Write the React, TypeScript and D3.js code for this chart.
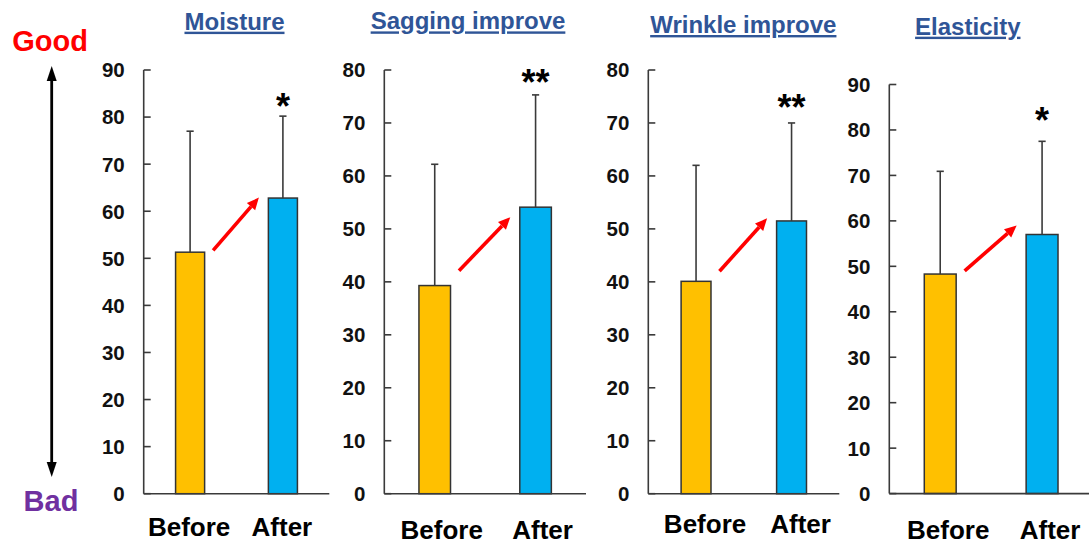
import React from "react";
import * as d3 from "d3";

// ---------- data ----------
const titles = ["Moisture", "Sagging improve", "Wrinkle improve", "Elasticity"];
const categories = ["Before", "After"];
const beforeMeans = [51.3, 39.3, 40.1, 48.3];
const afterMeans = [62.8, 54.1, 51.5, 57.0];
const beforeSD = [25.7, 22.9, 21.9, 22.6];
const afterSD = [17.4, 21.2, 18.5, 20.5];
const yMaxes = [90, 80, 80, 90];
const significance = ["*", "**", "**", "*"];
const arrowFrom = [51.7, 42.1, 42.0, 49.0];
const arrowTo = [62.9, 52.2, 52.0, 59.0];

// ---------- layout ----------
const W = 1089;
const H = 548;
const FONT = "'Liberation Sans', Arial, Helvetica, sans-serif";
const panelLayout = [
  { x0: 143.7, x1: 329.3, yTop: 70, yZero: 493.7, titleX: 234.5, titleY: 29.7, starGap: 17, labelDx: -1, labelY: 536 },
  { x0: 384.3, x1: 586, yTop: 70, yZero: 493.7, titleX: 468, titleY: 29.4, starGap: 20, labelDx: 7, labelY: 539 },
  { x0: 648.3, x1: 839.3, yTop: 70, yZero: 493.7, titleX: 743.3, titleY: 33, starGap: 23, labelDx: 9, labelY: 533 },
  { x0: 889.3, x1: 1093, yTop: 84.5, yZero: 493.6, titleX: 967.8, titleY: 34.7, starGap: 28, labelDx: 8, labelY: 539 },
];
const barColors = ["#FFC000", "#00B0F0"];
const axisColor = "#3a3a3a";

function Panel({ i }: { i: number }) {
  const L = panelLayout[i];
  const x = d3.scaleBand<string>().domain(categories).range([L.x0, L.x1]).paddingInner(0).paddingOuter(0);
  const y = d3.scaleLinear().domain([0, yMaxes[i]]).range([L.yZero, L.yTop]);
  const bw = x.bandwidth() * 0.313;
  const means = [beforeMeans[i], afterMeans[i]];
  const sds = [beforeSD[i], afterSD[i]];
  const ticks = d3.range(0, yMaxes[i] + 1, 10);
  const cx = (c: string) => (x(c) as number) + x.bandwidth() / 2;

  // arrow
  const ax1 = cx("Before") + bw / 2 + 8.5;
  const ay1 = y(arrowFrom[i]);
  const ax2 = cx("After") - bw / 2 - 9.5;
  const ay2 = y(arrowTo[i]);
  const ang = Math.atan2(ay2 - ay1, ax2 - ax1);
  const headLen = 12;
  const headW = 5.5;
  const bx = ax2 - headLen * Math.cos(ang);
  const by = ay2 - headLen * Math.sin(ang);
  const px = -Math.sin(ang) * headW;
  const py = Math.cos(ang) * headW;

  const errTopAfter = y(afterMeans[i] + afterSD[i]);

  return (
    <g>
      <text
        x={L.titleX}
        y={L.titleY}
        textAnchor="middle"
        fontFamily={FONT}
        fontWeight="bold"
        fontSize={24}
        fill="#2F5597"
        textDecoration="underline"
      >
        {titles[i]}
      </text>
      {categories.map((c, k) => (
        <rect
          key={c}
          x={cx(c) - bw / 2}
          y={y(means[k])}
          width={bw}
          height={L.yZero - y(means[k])}
          fill={barColors[k]}
          stroke="#333"
          strokeWidth={1.5}
        />
      ))}
      {categories.map((c, k) => (
        <g key={c} stroke={axisColor} strokeWidth={1.6}>
          <line x1={cx(c)} x2={cx(c)} y1={y(means[k])} y2={y(means[k] + sds[k])} />
          <line x1={cx(c) - 3.6} x2={cx(c) + 3.6} y1={y(means[k] + sds[k])} y2={y(means[k] + sds[k])} />
        </g>
      ))}
      <line x1={L.x0} x2={L.x0} y1={L.yTop} y2={L.yZero} stroke={axisColor} strokeWidth={1.6} />
      <line x1={L.x0} x2={L.x1} y1={L.yZero} y2={L.yZero} stroke={axisColor} strokeWidth={1.6} />
      {ticks.map((t) => (
        <g key={t}>
          <line x1={L.x0} x2={L.x0 + 7} y1={y(t)} y2={y(t)} stroke={axisColor} strokeWidth={1.6} />
          <text
            x={L.x0 - 19}
            y={y(t)}
            dy="0.36em"
            textAnchor="end"
            fontFamily={FONT}
            fontWeight="bold"
            fontSize={20.5}
            fill="#111"
          >
            {t}
          </text>
        </g>
      ))}
      {categories.map((c) => (
        <text
          key={c}
          x={cx(c) + L.labelDx}
          y={L.labelY}
          textAnchor="middle"
          fontFamily={FONT}
          fontWeight="bold"
          fontSize={26}
          fill="#000"
        >
          {c}
        </text>
      ))}
      <text
        x={cx("After")}
        y={errTopAfter - L.starGap + 19.8}
        textAnchor="middle"
        fontFamily={FONT}
        fontWeight="bold"
        fontSize={36}
        fill="#000"
      >
        {significance[i]}
      </text>
      <line x1={ax1} y1={ay1} x2={bx} y2={by} stroke="#FF0000" strokeWidth={3.6} />
      <polygon points={`${ax2},${ay2} ${bx + px},${by + py} ${bx - px},${by - py}`} fill="#FF0000" />
    </g>
  );
}

export default function App() {
  const arrowX = 51.7;
  const aTop = 66;
  const aBot = 477;
  return (
    <svg
      width={W}
      height={H}
      viewBox={`0 0 ${W} ${H}`}
      style={{ position: "absolute", left: 0, top: 0, background: "#fff" }}
    >
      <rect x={0} y={0} width={W} height={H} fill="#fff" />
      <text x={50} y={51} textAnchor="middle" fontFamily={FONT} fontWeight="bold" fontSize={29} fill="#FF0000">
        Good
      </text>
      <text x={51} y={511} textAnchor="middle" fontFamily={FONT} fontWeight="bold" fontSize={29} fill="#7030A0">
        Bad
      </text>
      <line x1={arrowX} x2={arrowX} y1={aTop + 12} y2={aBot - 12} stroke="#000" strokeWidth={2.8} />
      <polygon points={`${arrowX},${aTop} ${arrowX - 5},${aTop + 15} ${arrowX + 5},${aTop + 15}`} fill="#000" />
      <polygon points={`${arrowX},${aBot} ${arrowX - 5},${aBot - 15} ${arrowX + 5},${aBot - 15}`} fill="#000" />
      {titles.map((_, i) => (
        <Panel key={i} i={i} />
      ))}
    </svg>
  );
}
